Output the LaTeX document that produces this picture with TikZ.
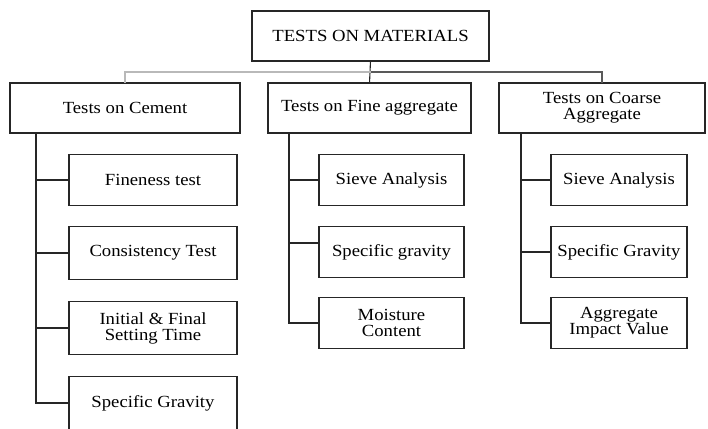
\documentclass[tikz,border=0pt]{standalone}
\usepackage{fontspec}
\setmainfont[FakeStretch=1.1]{Liberation Serif}
\usetikzlibrary{calc}

\begin{document}
\begin{tikzpicture}[x=1pt, y=-1pt,
    box/.style={draw=black!85, line width=1.1pt, align=center,
                inner sep=0pt, outer sep=0pt,
                minimum height=51pt,
                font=\fontsize{17}{16}\selectfont},
    link/.style={draw=black!85, line width=1.1pt}]
\clip (0,0) rectangle (708,428);

\node[box, minimum width=237pt, minimum height=50pt] (mat) at (370.5,36) {TESTS ON MATERIALS};

\node[box, minimum width=230pt, minimum height=50pt] (cem) at (125,108) {Tests on Cement};
\node[box, minimum width=203pt, minimum height=50pt] (fin) at (369.5,108) {Tests on Fine aggregate};
\node[box, minimum width=206pt, minimum height=50pt] (coa) at (602,108) {Tests on Coarse\\Aggregate};

\node[box, minimum width=168pt] (cem-1) at (153,180) {Fineness test};
\node[box, minimum width=168pt, minimum height=53pt] (cem-2) at (153,253) {Consistency Test};
\node[box, minimum width=168pt, minimum height=53pt] (cem-3) at (153,328) {Initial \& Final\\Setting Time};
\node[box, minimum width=168pt, minimum height=53pt] (cem-4) at (153,403) {Specific Gravity};

\node[box, minimum width=145pt] (fin-1) at (391.5,180) {Sieve Analysis};
\node[box, minimum width=145pt] (fin-2) at (391.5,252) {Specific gravity};
\node[box, minimum width=145pt] (fin-3) at (391.5,323) {Moisture\\Content};

\node[box, minimum width=136pt] (coa-1) at (619,180) {Sieve Analysis};
\node[box, minimum width=136pt] (coa-2) at (619,252) {Specific Gravity};
\node[box, minimum width=136pt] (coa-3) at (619,323) {Aggregate\\Impact Value};

% bus under the title
\coordinate (bus) at ($(mat.south)+(0,11)$);
\draw[link] (mat.south) -- (fin.north);
\draw[gray!55, line width=1.1pt] (bus) -| (cem.north);
\draw[black!65, line width=1.4pt] (bus) -| (coa.north);

% trunks
\coordinate (cem-t) at ($(cem.south west)+(26,0)$);
\coordinate (fin-t) at ($(fin.south west)+(21,0)$);
\coordinate (coa-t) at ($(coa.south west)+(22,0)$);

\draw[link] (cem-t) |- (cem-4.west);
\draw[link] (cem-t |- cem-1) -- (cem-1.west);
\draw[link] (cem-t |- cem-2) -- (cem-2.west);
\draw[link] (cem-t |- cem-3) -- (cem-3.west);

\draw[link] (fin-t) |- (fin-3.west);
\draw[link] (fin-t |- fin-1) -- (fin-1.west);
\draw[link] ($(fin-t |- fin-2)+(0,-9)$) -- ($(fin-2.west)+(0,-9)$);

\draw[link] (coa-t) |- (coa-3.west);
\draw[link] (coa-t |- coa-1) -- (coa-1.west);
\draw[link] (coa-t |- coa-2) -- (coa-2.west);
\end{tikzpicture}
\end{document}
